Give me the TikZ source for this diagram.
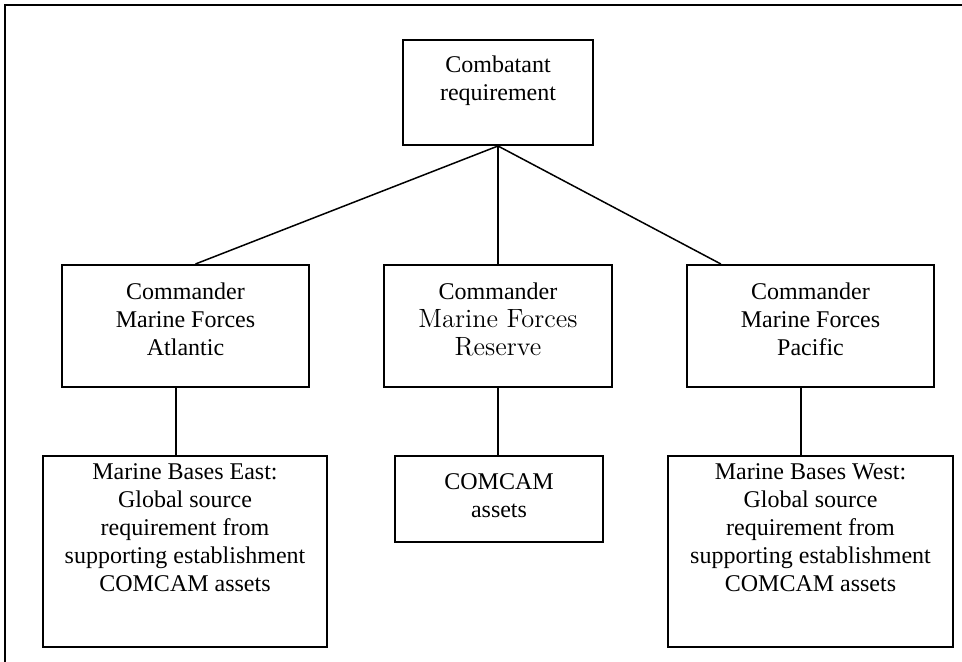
\documentclass[tikz,border=0pt]{standalone}
\usepackage{fontspec}
\setmainfont{Liberation Serif}
\newfontfamily\lmfont{Latin Modern Roman}
\usetikzlibrary{calc}
% text block of a box: width, height, top gap, text
\newcommand{\boxtext}[4]{\parbox[c][#2][t]{#1}{\centering\vspace*{#3}#4}}
\begin{document}
\begin{tikzpicture}[x=0.5pt, y=-0.5pt, line width=0.75pt,
  every node/.style={font=\fontsize{12}{14}\selectfont},
  box/.style={draw, line width=1pt, inner sep=0pt}]
\useasboundingbox (0,0) rectangle (962,662);
\draw[line width=1pt] (5,662) -- (5,5) -- (962,5);
\node[box] (B_0_0) at (498,92.5) {\boxtext{95pt}{52.5pt}{8pt}{Combatant\\requirement}};
\node[box] (B_1_0) at (185.5,326) {\boxtext{123.5pt}{61pt}{9pt}{Commander\\Marine Forces\\Atlantic}};
\node[box] (B_1_1) at (498,326) {\boxtext{114pt}{61pt}{9pt}{Commander\\{\lmfont\fontsize{13.2}{14}\selectfont Marine Forces\\Reserve}}};
\node[box] (B_1_2) at (810.5,326) {\boxtext{123.5pt}{61pt}{9pt}{Commander\\Marine Forces\\Pacific}};
\draw (B_0_0.south) -- ($(B_1_0.north west)!0.54!(B_1_0.north east)$);
\draw (B_0_0.south) -- (B_1_1.north);
\draw (B_0_0.south) -- ($(B_1_2.north west)!0.14!(B_1_2.north east)$);
\node[box] (B_2_0) at (185,551.5) {\boxtext{142pt}{95.5pt}{4pt}{Marine Bases East:\\Global source\\requirement from\\supporting establishment\\COMCAM assets}};
\node[box] (B_2_1) at (499,499) {\boxtext{104pt}{43pt}{9pt}{COMCAM\\assets}};
\node[box] (B_2_2) at (810.5,551.5) {\boxtext{142.5pt}{95.5pt}{4pt}{Marine Bases West:\\Global source\\requirement from\\supporting establishment\\COMCAM assets}};
\coordinate (D_0) at ($(B_1_0.south)+(-9.5,0)$);
\draw (D_0) -- (D_0 |- B_2_0.north);
\draw (B_1_1.south) -- (B_1_1.south |- B_2_1.north);
\coordinate (D_2) at ($(B_1_2.south)+(-9.5,0)$);
\draw (D_2) -- (D_2 |- B_2_2.north);
\end{tikzpicture}
\end{document}
